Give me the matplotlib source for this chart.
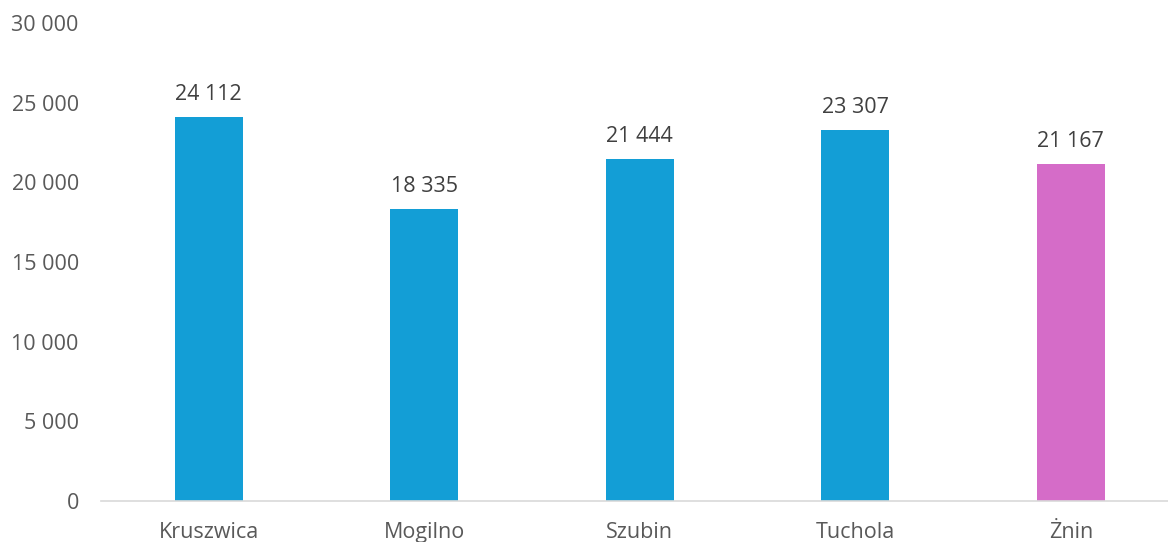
import matplotlib.pyplot as plt
from matplotlib.ticker import FuncFormatter

# dane
gminy = ['Kruszwica', 'Mogilno', 'Szubin', 'Tuchola', 'Żnin']
wartosci = [24112, 18335, 21444, 23307, 21167]
kolory = ['#139ED6', '#139ED6', '#139ED6', '#139ED6', '#D56CC8']

plt.rcParams['font.family'] = ['Open Sans', 'DejaVu Sans']
szary = '#595959'

fig = plt.figure(figsize=(11.68, 5.42), dpi=100)
ax = fig.add_axes([101 / 1168, 1 - 501 / 542, 1077.5 / 1168, 478 / 542])

x = range(len(gminy))
ax.bar(x, wartosci, color=kolory, width=0.315)
for i, v in enumerate(wartosci):
    ax.text(i, v + 750, f'{v:,}'.replace(',', ' '), ha='center', va='bottom',
            fontsize=15.5, color='#404040')

ax.set_xlim(-0.5, 4.5)
ax.set_ylim(0, 30000)
ax.set_yticks(range(0, 30001, 5000))
ax.yaxis.set_major_formatter(FuncFormatter(lambda v, p: f'{int(v):,}'.replace(',', ' ')))
ax.set_xticks(list(x))
ax.set_xticklabels(gminy)
ax.tick_params(axis='both', length=0, labelsize=15.5, colors=szary)
ax.tick_params(axis='y', pad=16)
ax.tick_params(axis='x', pad=15)
for s in ['top', 'right', 'left']:
    ax.spines[s].set_visible(False)
ax.spines['bottom'].set_color('#D9D9D9')
ax.spines['bottom'].set_linewidth(1.2)

fig.savefig('out.png', dpi=100)
